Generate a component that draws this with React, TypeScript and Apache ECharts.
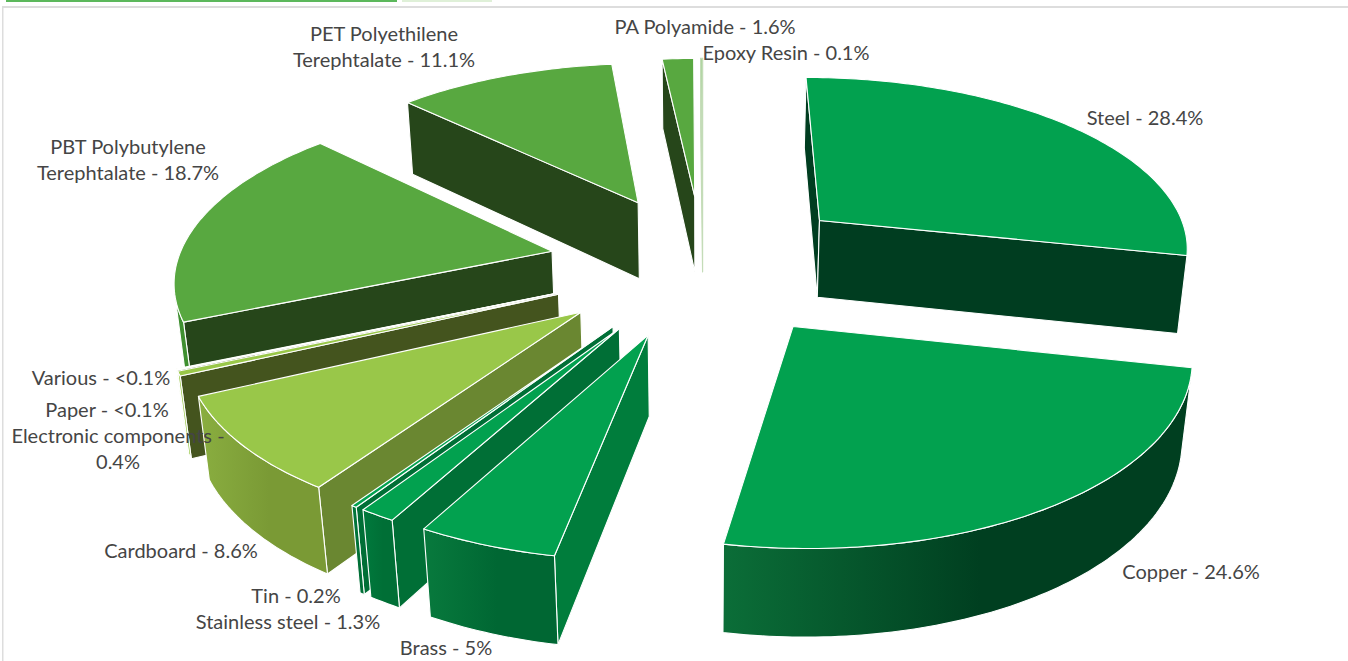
import React, { useEffect, useRef } from "react";
import * as echarts from "echarts";

const materials = ["Steel", "Copper", "Brass", "Stainless steel", "Tin", "Cardboard", "Electronic components", "Paper", "Various", "PBT Polybutylene Terephtalate", "PET Polyethilene Terephtalate", "PA Polyamide", "Epoxy Resin"];
const shares = [28.4, 24.6, 5, 1.3, 0.2, 8.6, 0.4, 0.05, 0.05, 18.7, 11.1, 1.6, 0.1];
const labelTexts = ["Steel - 28.4%", "Copper - 24.6%", "Brass - 5%", "Stainless steel - 1.3%", "Tin - 0.2%", "Cardboard - 8.6%", "Electronic components -\n0.4%", "Paper - <0.1%", "Various - <0.1%", "PBT Polybutylene\nTerephtalate - 18.7%", "PET Polyethilene\nTerephtalate - 11.1%", "PA Polyamide - 1.6%", "Epoxy Resin - 0.1%"];

const labelCentres = [[1145, 117], [1191, 571], [446, 647], [288, 621], [296, 595], [181, 550], [118, 448], [107, 409], [101, 377], [128, 159], [384, 46], [705, 26], [786, 52]];
const topColours = ["#02a14f", "#02a14f", "#02a14f", "#02a14f", "#02a14f", "#99c749", "#99c749", "#99c749", "#99c749", "#58a840", "#58a840", "#58a840", "#a9d39b"];
const radialColours = ["#003d20", "#003d20", "#007d3c", "#006f36", "#006f36", "#6a8731", "#44541e", "#44541e", "#44541e", "#26461a", "#26461a", "#26461a", "#c8d8c0"];
const edgeColours = ["#ffffff", "#ffffff", "#ffffff", "#ffffff", "#ffffff", "#ffffff", "#ffffff", "#ffffff", "#ffffff", "#ffffff", "#ffffff", "#ffffff", "#c4dcb8"];
const wallColours = [["#003d20", "#003d20"], ["#0b6e38", "#003f20"], ["#087a3d", "#006733"], ["#007a3d", "#006f36"], ["#007a3d", "#006f36"], ["#8aae40", "#7a9a35"], ["#99c749", "#99c749"], ["#99c749", "#99c749"], ["#99c749", "#99c749"], ["#3f8f30", "#3f8f30"], ["#3f8f30", "#3f8f30"], ["#3f8f30", "#3f8f30"], ["#a9d39b", "#a9d39b"]];

const CX = 703, CY = 264, EXPLODE = 155, RADIUS = 375, TILT = 0.462, PERSP = 0.00036, SINK = 0.00025, HEIGHT = 80;
const total = shares.reduce((a, b) => a + b, 0);

type P = [number, number];
const project = (x: number, y: number, depth: number): P => {
  const d = 1 - PERSP * y + SINK * depth;
  return [CX + x / d, CY + (TILT * y + depth) / d];
};
const area = (pts: P[]) => pts.reduce((s, p, i) => {
  const q = pts[(i + 1) % pts.length];
  return s + p[0] * q[1] - q[0] * p[1];
}, 0);

const wedge = (i: number) => {
  const before = shares.slice(0, i).reduce((a, b) => a + b, 0);
  const a0 = (before / total) * Math.PI * 2;
  const a1 = ((before + shares[i]) / total) * Math.PI * 2;
  const mid = (a0 + a1) / 2;
  return { a0, a1, ox: EXPLODE * Math.sin(mid), oy: -EXPLODE * Math.cos(mid) };
};

const order = shares.map((_, i) => i).sort((p, q) => wedge(p).oy - wedge(q).oy);

const renderSlice = (_params: any, api: any) => {
  const i = api.value(1) as number;
  const { a0, a1, ox, oy } = wedge(i);
  const steps = Math.max(2, Math.ceil(((a1 - a0) * 180) / Math.PI));
  const rim = (t: number, depth: number) => project(ox + RADIUS * Math.sin(t), oy - RADIUS * Math.cos(t), depth);
  const angles = Array.from({ length: steps + 1 }, (_, k) => a0 + ((a1 - a0) * k) / steps);
  const A = project(ox, oy, 0), A2 = project(ox, oy, HEIGHT);
  const children: any[] = [];
  const face = (points: P[], fill: any) => children.push({ type: "polygon", shape: { points }, style: { fill, stroke: edgeColours[i], lineWidth: 1.1, lineJoin: "round" } });

  const startFace: P[] = [A, rim(a0, 0), rim(a0, HEIGHT), A2];
  if (area(startFace) < 0) face(startFace, radialColours[i]);
  const endFace: P[] = [A, rim(a1, 0), rim(a1, HEIGHT), A2];
  if (area(endFace) > 0) face(endFace, radialColours[i]);

  let first = -1, last = -1;
  for (let k = 0; k < steps; k++) {
    const quad: P[] = [rim(angles[k], 0), rim(angles[k + 1], 0), rim(angles[k + 1], HEIGHT), rim(angles[k], HEIGHT)];
    if (area(quad) < 0) {
      if (first < 0) first = k;
      last = k + 1;
    }
  }
  if (first >= 0) {
    const run = angles.slice(first, last + 1);
    const wall: P[] = [...run.map((t) => rim(t, 0)), ...run.slice().reverse().map((t) => rim(t, HEIGHT))];
    const [c0, c1] = wallColours[i];
    face(wall, new echarts.graphic.LinearGradient(0, 0, 1, 0, [
      { offset: 0, color: c0 },
      { offset: 0.55, color: c1 },
      { offset: 1, color: c1 },
    ]));
  }
  const top: P[] = [A, ...angles.map((t) => rim(t, 0))];
  face(top, topColours[i]);
  return { type: "group", children };
};

export default function App() {
  const ref = useRef<HTMLDivElement>(null);
  useEffect(() => {
    if (!ref.current) return;
    const chart = echarts.init(ref.current, undefined, { renderer: "svg" });
    chart.setOption({
      animation: false,
      backgroundColor: "#ffffff",
      graphic: {
        elements: [
          { type: "rect", shape: { x: 6, y: 0, width: 391, height: 2 }, style: { fill: "#5cb85c" }, z: 1 },
          { type: "rect", shape: { x: 402, y: 0, width: 90, height: 2 }, style: { fill: "#dff0d8" }, z: 1 },
          { type: "rect", shape: { x: 2, y: 6, width: 1346, height: 2 }, style: { fill: "#dddddd" }, z: 1 },
          { type: "rect", shape: { x: 2, y: 6, width: 1.5, height: 655 }, style: { fill: "#dddddd" }, z: 1 },
          ...labelTexts.map((text, i) => ({
            type: "text",
            x: labelCentres[i][0],
            y: labelCentres[i][1],
            z: 100,
            style: { text, fill: "#454545", font: '20px Lato', align: "center", verticalAlign: "middle", lineHeight: 26 },
          })),
        ],
      },
      series: [{
        type: "custom",
        coordinateSystem: "none",
        silent: true,
        renderItem: renderSlice,
        data: order.map((i) => ({ name: materials[i], value: [shares[i], i] })),
      }],
    });
    return () => chart.dispose();
  }, []);
  return <div ref={ref} style={{ position: "absolute", left: 0, top: 0, width: 1348, height: 661 }} />;
}
